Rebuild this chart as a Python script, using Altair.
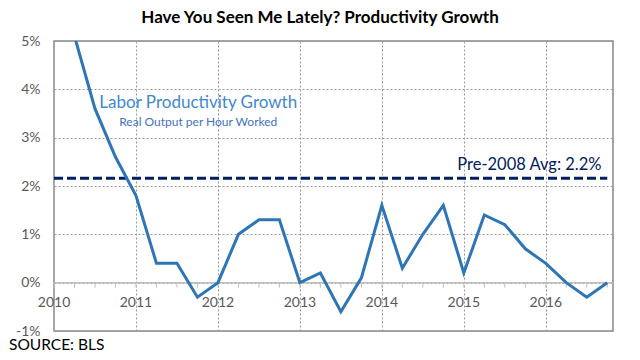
import altair as alt
import pandas as pd

# Quarterly labour productivity growth (YoY %)
quarters = [2010.0, 2010.25, 2010.5, 2010.75,
            2011.0, 2011.25, 2011.5, 2011.75,
            2012.0, 2012.25, 2012.5, 2012.75,
            2013.0, 2013.25, 2013.5, 2013.75,
            2014.0, 2014.25, 2014.5, 2014.75,
            2015.0, 2015.25, 2015.5, 2015.75,
            2016.0, 2016.25, 2016.5, 2016.75]
growth = [6.0, 5.1, 3.6, 2.6,
          1.8, 0.4, 0.4, -0.3,
          0.0, 1.0, 1.3, 1.3,
          0.0, 0.2, -0.6, 0.1,
          1.6, 0.3, 1.0, 1.6,
          0.2, 1.4, 1.2, 0.7,
          0.4, 0.0, -0.3, 0.0]
avg_value = 2.16
avg_span = [2010.0, 2016.75]
years = [2010, 2011, 2012, 2013, 2014, 2015, 2016]
y_ticks = [-1, 0, 1, 2, 3, 4, 5]

df = pd.DataFrame({"t": quarters, "g": growth})
avg_df = pd.DataFrame({"t": [avg_span[0]], "t2": [avg_span[1]], "v": [avg_value]})
tick_df = pd.DataFrame({"t": quarters})
year_df = pd.DataFrame({"t": years, "label": [str(y) for y in years]})
one = pd.DataFrame({"k": [0]})

FONT = "Lato"
xs = alt.Scale(domain=[2010, 2016.82], nice=False, zero=False)
ys = alt.Scale(domain=[-1, 5], nice=False, zero=False)

x_grid_axis = alt.Axis(values=years[1:], grid=True, gridColor="#999999", gridDash=[2, 2],
                       gridWidth=1, labels=False, ticks=False, domain=False, title=None)
y_axis = alt.Axis(values=y_ticks, grid=True, gridColor="#999999", gridDash=[2, 2], gridWidth=1,
                  labelExpr="datum.value + '%'", labelFont=FONT, labelFontSize=14,
                  labelColor="#595959", labelPadding=14, ticks=False, domain=True,
                  domainColor="#a6a6a6", domainWidth=1, title=None)

base_x = alt.X("t:Q", scale=xs, axis=x_grid_axis)

grid = alt.Chart(df).mark_line(opacity=0).encode(
    x=base_x, y=alt.Y("g:Q", scale=ys, axis=y_axis))

zero_line = alt.Chart(one).mark_rule(color="#bfbfbf", strokeWidth=1.5).encode(
    x=alt.value(0), x2=alt.value(559), y=alt.datum(0, scale=ys))

qticks = alt.Chart(tick_df).mark_rule(color="#bfbfbf", strokeWidth=1, y2Offset=5).encode(
    x=alt.X("t:Q", scale=xs), y=alt.datum(0), y2=alt.datum(0))

year_labels = alt.Chart(year_df).mark_text(font=FONT, fontSize=14, color="#595959",
                                           baseline="middle", dy=20).encode(
    x=alt.X("t:Q", scale=xs), y=alt.datum(0), text="label:N")

avg_line = alt.Chart(avg_df).mark_rule(color="#002060", strokeWidth=3,
                                       strokeDash=[9, 4]).encode(
    x=alt.X("t:Q", scale=xs), x2="t2:Q", y=alt.Y("v:Q", scale=ys))

line = alt.Chart(df).mark_line(color="#2e75b6", strokeWidth=3, clip=True).encode(
    x=alt.X("t:Q", scale=xs), y=alt.Y("g:Q", scale=ys))

lab1 = alt.Chart(one).mark_text(text="Labor Productivity Growth", font=FONT, fontSize=17,
                                color="#3f88cf", align="center", baseline="alphabetic").encode(
    x=alt.datum(2011.76), y=alt.datum(3.61))
lab2 = alt.Chart(one).mark_text(text="Real Output per Hour Worked", font=FONT, fontSize=12,
                                color="#4472c4", align="center", baseline="alphabetic").encode(
    x=alt.datum(2011.76), y=alt.datum(3.25))
lab3 = alt.Chart(one).mark_text(text="Pre-2008 Avg: 2.2%", font=FONT, fontSize=16.5,
                                color="#002060", align="right", baseline="alphabetic").encode(
    x=alt.datum(2016.68), y=alt.datum(2.33))
source = alt.Chart(one).mark_text(text="SOURCE: BLS", font=FONT, fontSize=15.5,
                                  color="#000000", align="left", baseline="alphabetic").encode(
    x=alt.value(-45), y=alt.value(309))
title = alt.Chart(one).mark_text(text="Have You Seen Me Lately? Productivity Growth",
                                 font=FONT, fontSize=17, fontWeight="bold", color="#000000",
                                 align="center", baseline="alphabetic").encode(
    x=alt.value(266), y=alt.value(-18))

chart = alt.layer(grid, zero_line, qticks, year_labels, avg_line, line,
                  lab1, lab2, lab3, source, title).properties(
    width=559, height=290,
    autosize=alt.AutoSizeParams(type="none"),
    padding={"left": 46, "top": 33, "right": 10, "bottom": 21},
).configure_view(stroke="#888888", strokeWidth=1.5)

chart.save("out.html", embed_options={"renderer": "svg", "actions": False})
